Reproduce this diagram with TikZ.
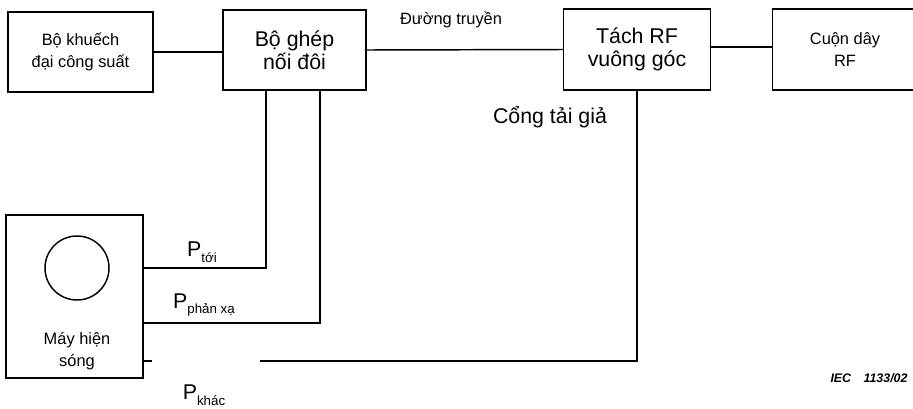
\documentclass[tikz,border=0pt]{standalone}
\usepackage{fontspec}
\setmainfont{Liberation Sans}
\usetikzlibrary{positioning}

\begin{document}
\begin{tikzpicture}[
  x=0.75pt, y=-0.75pt,
  line width=1.1pt,
  every node/.style={font=\fontsize{12.3}{16}\selectfont},
  smallbox/.style={rectangle, draw, line width=1.1pt, minimum width=109pt,
    minimum height=60pt, align=center, inner sep=2pt},
  bigbox/.style={smallbox, font=\fontsize{16}{17}\selectfont},
  plabel/.style={font=\fontsize{16}{18}\selectfont},
]
\useasboundingbox (0,0) rectangle (913,408);

% Main chain
\node[smallbox] (amp) at (80.5,52) {Bộ khuếch\\đại công suất};
\node[bigbox, minimum width=107pt] (coupler) at (294.5,50) {Bộ ghép\\nối đôi};
\node[bigbox, minimum width=110pt, minimum height=61pt] (rfsplit) at (637,49.5)
  {Tách RF\\vuông góc};
\node[smallbox, minimum height=61pt] (coil) at (845,49.5) {Cuộn dây\\RF};

\draw (amp.east) -- (coupler.west |- amp.east);
\draw (coupler.east) -- (rfsplit.west);
\draw (rfsplit.east |- 0,47) -- (coil.west |- 0,47);

% Line label
\node (line) at (451,20) {Đường truyền};
\node[plabel] (dummy) at (550,117) {Cổng tải giả};

% Oscilloscope
\node[rectangle, draw, minimum width=103pt, minimum height=122pt] (scope) at (74.5,296.5) {};
\node[circle, draw, minimum size=48pt, inner sep=0pt] (screen) at (77,268) {};
\node[align=center] (scopetxt) at (77,351) {Máy hiện\\sóng};

% Measurement lines
\coordinate (kstub) at (152,361);
\coordinate (kend) at (260,361);
\draw (coupler.south -| 266,0) |- (scope.east |- 0,268);
\draw (coupler.south -| 320,0) |- (scope.east |- 0,323);
\draw (scope.east |- kstub) -- (kstub);
\draw (rfsplit.south) |- (kend);

% Signal labels
\node[plabel] (ptoi) at (202,252) {P\raisebox{-0.5ex}{\fontsize{10}{10}\selectfont tới}};
\node[plabel] (pref) at (204,305) {P\raisebox{-0.5ex}{\fontsize{10}{10}\selectfont phản xạ}};
\node[plabel] (pkhac) at (204,395) {P\raisebox{-0.5ex}{\fontsize{10}{10}\selectfont khác}};

% Figure number
\node[font=\fontsize{9.3}{10}\selectfont\bfseries\itshape] (iec) at (869,378) {IEC\quad 1133/02};

\end{tikzpicture}
\end{document}
